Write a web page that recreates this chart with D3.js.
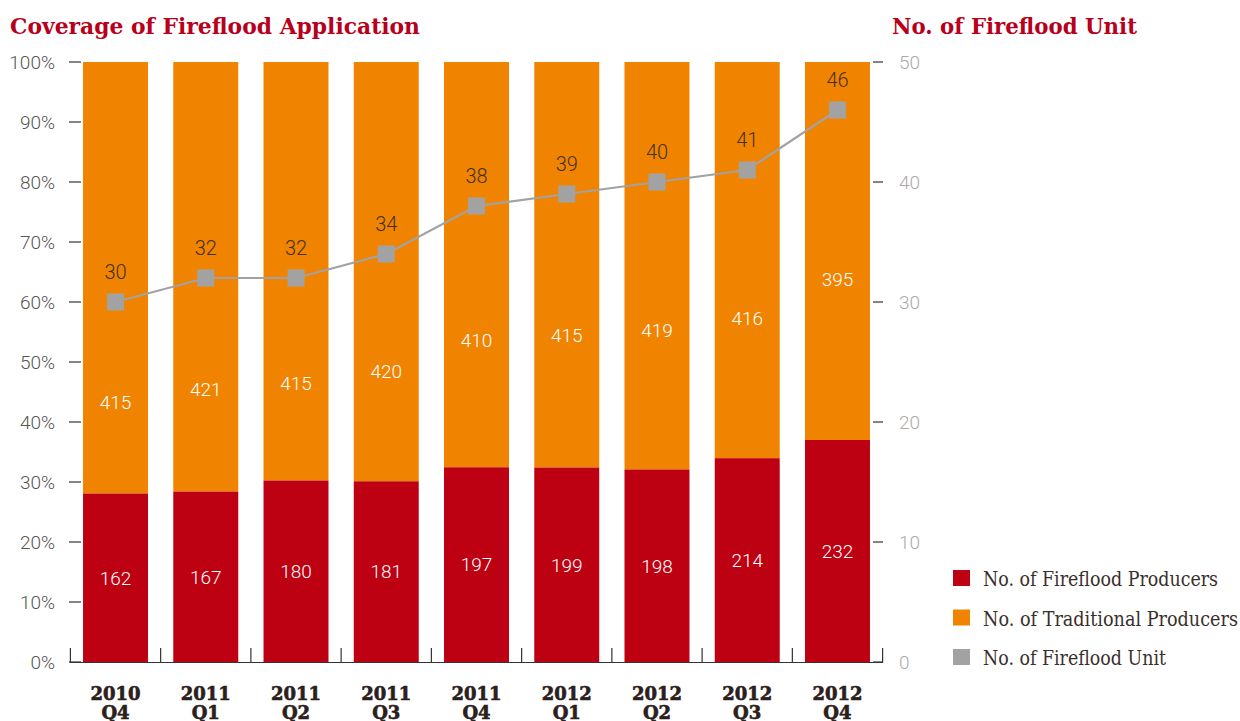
<!DOCTYPE html>
<html><head><meta charset="utf-8">
<script src="https://cdn.jsdelivr.net/npm/d3@7"></script>
<style>body{margin:0;background:#fff}</style></head>
<body><svg id="c" width="1240" height="721"></svg>
<script>
const years = ["2010","2011","2011","2011","2011","2012","2012","2012","2012"];
const quarters = ["Q4","Q1","Q2","Q3","Q4","Q1","Q2","Q3","Q4"];
const fireflood = [162,167,180,181,197,199,198,214,232];
const traditional = [415,421,415,420,410,415,419,416,395];
const units = [30,32,32,34,38,39,40,41,46];
const pctTicks = [0,10,20,30,40,50,60,70,80,90,100];
const unitTicks = [0,10,20,30,40,50];
const legendLabels = ["No. of Fireflood Producers","No. of Traditional Producers","No. of Fireflood Unit"];
const colors = ["#bd0012","#f08400","#a2a2a2"];

const cats = years.map((y,i)=>y+" "+quarters[i]);
const svg = d3.select("#c");
const x = d3.scaleBand().domain(cats).range([70.4, 882.6]).paddingInner(0.28).paddingOuter(0.14);
const y = d3.scaleLinear().domain([0,100]).range([662,62]);
const yR = d3.scaleLinear().domain([0,50]).range([662,62]);
const numFont = "Roboto, 'Open Sans', sans-serif";

// titles
svg.append("text").attr("x",10).attr("y",34).attr("fill","#b8001c")
  .attr("font-family","'DejaVu Serif', serif").attr("font-weight","bold").attr("font-size",22)
  .attr("textLength",410).attr("lengthAdjust","spacingAndGlyphs").text("Coverage of Fireflood Application");
svg.append("text").attr("x",892).attr("y",34).attr("fill","#b8001c")
  .attr("font-family","'DejaVu Serif', serif").attr("font-weight","bold").attr("font-size",22)
  .attr("textLength",245).attr("lengthAdjust","spacingAndGlyphs").text("No. of Fireflood Unit");

// bars
const data = cats.map((c,i)=>{
  const tot = fireflood[i]+traditional[i];
  return {c, f:fireflood[i], t:traditional[i], pf: fireflood[i]/tot*100, u:units[i]};
});
const g = svg.append("g");
g.selectAll("rect.o").data(data).join("rect").attr("class","o")
  .attr("x",d=>x(d.c)).attr("width",x.bandwidth())
  .attr("y",y(100)).attr("height",d=>y(d.pf)-y(100)).attr("fill",colors[1]);
g.selectAll("rect.r").data(data).join("rect").attr("class","r")
  .attr("x",d=>x(d.c)).attr("width",x.bandwidth())
  .attr("y",d=>y(d.pf)).attr("height",d=>y(0)-y(d.pf)).attr("fill",colors[0]);

// bar labels
g.selectAll("text.rl").data(data).join("text").attr("class","rl")
  .attr("x",d=>x(d.c)+x.bandwidth()/2).attr("y",d=>(y(0)+y(d.pf))/2).attr("dy","0.36em")
  .attr("text-anchor","middle").attr("fill","#fff").attr("font-family",numFont).attr("font-weight",300)
  .attr("font-size",19).text(d=>d.f);
g.selectAll("text.ol").data(data).join("text").attr("class","ol")
  .attr("x",d=>x(d.c)+x.bandwidth()/2).attr("y",d=>(yR(d.u)+y(d.pf))/2+4).attr("dy","0.36em")
  .attr("text-anchor","middle").attr("fill","#fff").attr("font-family",numFont).attr("font-weight",300)
  .attr("font-size",19).text(d=>d.t);

// left axis ticks
const la = svg.append("g");
la.selectAll("line").data(pctTicks).join("line")
  .attr("x1",69).attr("x2",81).attr("y1",d=>y(d)).attr("y2",d=>y(d)).attr("stroke","#333").attr("stroke-width",1.2);
la.selectAll("text").data(pctTicks).join("text")
  .attr("x",55).attr("y",d=>y(d)).attr("dy","0.36em").attr("text-anchor","end")
  .attr("fill","#555").attr("font-family",numFont).attr("font-weight",300).attr("font-size",19)
  .text(d=>d+"%");

// right axis ticks
const ra = svg.append("g");
ra.selectAll("line").data(unitTicks).join("line")
  .attr("x1",873).attr("x2",883).attr("y1",d=>yR(d)).attr("y2",d=>yR(d)).attr("stroke","#333").attr("stroke-width",1.2);
ra.selectAll("text").data(unitTicks).join("text")
  .attr("x",899).attr("y",d=>yR(d)).attr("dy","0.36em").attr("text-anchor","start")
  .attr("fill","#aaa").attr("font-family",numFont).attr("font-weight",300).attr("font-size",19)
  .text(d=>d);

// bottom axis
const r0 = x.range()[0], st = x.step();
svg.append("line").attr("x1",r0).attr("x2",x.range()[1]).attr("y1",662.5).attr("y2",662.5).attr("stroke","#333").attr("stroke-width",1.2);
svg.append("g").selectAll("line").data(d3.range(cats.length+1)).join("line")
  .attr("x1",i=>r0+i*st).attr("x2",i=>r0+i*st).attr("y1",648).attr("y2",663).attr("stroke","#333").attr("stroke-width",1.2);
const xl = svg.append("g");
xl.selectAll("text.yr").data(data).join("text").attr("class","yr")
  .attr("x",d=>x(d.c)+x.bandwidth()/2).attr("y",700).attr("text-anchor","middle")
  .attr("fill","#2b201c").attr("stroke","#2b201c").attr("stroke-width",0.6)
  .attr("font-family","'DejaVu Serif', serif").attr("font-weight","bold").attr("font-size",18)
  .text((d,i)=>years[i]);
xl.selectAll("text.q").data(data).join("text").attr("class","q")
  .attr("x",d=>x(d.c)+x.bandwidth()/2).attr("y",719).attr("text-anchor","middle")
  .attr("fill","#2b201c").attr("stroke","#2b201c").attr("stroke-width",0.6)
  .attr("font-family","'DejaVu Serif', serif").attr("font-weight","bold").attr("font-size",18)
  .text((d,i)=>quarters[i]);

// line
const cx = d=>x(d.c)+x.bandwidth()/2;
svg.append("path").datum(data).attr("fill","none").attr("stroke",colors[2]).attr("stroke-width",2.2)
  .attr("d",d3.line().x(cx).y(d=>yR(d.u)));
svg.append("g").selectAll("rect").data(data).join("rect")
  .attr("x",d=>cx(d)-8.5).attr("y",d=>yR(d.u)-8.5).attr("width",17).attr("height",17).attr("fill",colors[2]);
svg.append("g").selectAll("text").data(data).join("text")
  .attr("x",cx).attr("y",d=>yR(d.u)-30).attr("dy","0.36em").attr("text-anchor","middle")
  .attr("fill","#45301f").attr("font-family",numFont).attr("font-weight",300).attr("font-size",20)
  .text(d=>d.u);

// legend
const legendWidths = [235,255,183];
const lg = svg.append("g");
legendLabels.forEach((l,i)=>{
  const by = 586 + i*39.5;
  lg.append("rect").attr("x",953).attr("y",by-16).attr("width",17).attr("height",16).attr("fill",colors[i]);
  lg.append("text").attr("x",983).attr("y",by).attr("fill","#3a2e2a")
    .attr("font-family","'DejaVu Serif', serif").attr("font-size",20).attr("font-stretch","condensed")
    .attr("textLength",legendWidths[i]).attr("lengthAdjust","spacingAndGlyphs")
    .text(l);
});
</script></body></html>
